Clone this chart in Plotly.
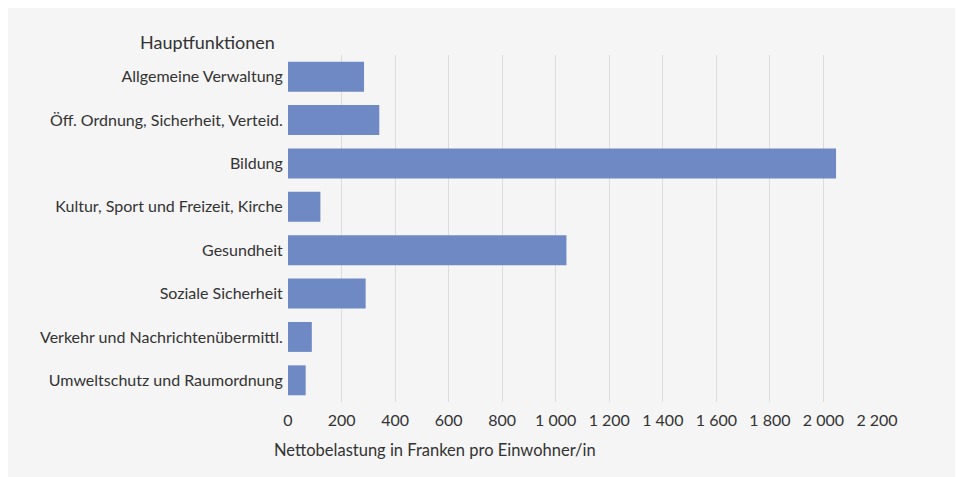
import plotly.graph_objects as go

categories = [
    "Allgemeine Verwaltung",
    "Öff. Ordnung, Sicherheit, Verteid.",
    "Bildung",
    "Kultur, Sport und Freizeit, Kirche",
    "Gesundheit",
    "Soziale Sicherheit",
    "Verkehr und Nachrichtenübermittl.",
    "Umweltschutz und Raumordnung",
]
values = [284, 341, 2047, 121, 1040, 290, 89, 66]
tick_vals = [0, 200, 400, 600, 800, 1000, 1200, 1400, 1600, 1800, 2000, 2200]
tick_text = ["0", "200", "400", "600", "800", "1 000", "1 200", "1 400",
             "1 600", "1 800", "2 000", "2 200"]

W, H = 951, 469
L, R, T, B = 280, 82, 47, 75
pw, ph = W - L - R, H - T - B

def px(x):
    return (x - L) / pw

def py(y):
    return (H - B - y) / ph

FONT = "Lato, Open Sans, sans-serif"
TXT = "#333333"
BG = "#f5f5f5"

fig = go.Figure(go.Bar(
    x=values, y=categories, orientation="h",
    marker=dict(color="#6f89c5", line=dict(width=0)),
    width=0.69,
))

fig.update_layout(
    width=W, height=H,
    margin=dict(l=L, r=R, t=T, b=B, autoexpand=False),
    paper_bgcolor=BG,
    plot_bgcolor=BG,
    font=dict(family=FONT, size=16, color=TXT),
    showlegend=False,
    xaxis=dict(range=[0, 2200], tickvals=tick_vals, ticktext=tick_text,
               showgrid=True, gridcolor="#dcdcdc", gridwidth=1,
               zeroline=False, showline=False, ticks="outside", ticklen=4,
               tickcolor="rgba(0,0,0,0)", tickfont=dict(size=16, color=TXT)),
    yaxis=dict(autorange="reversed", showgrid=False, zeroline=False,
               ticks="outside", ticklen=1, tickcolor="rgba(0,0,0,0)",
               tickfont=dict(size=16, color=TXT)),
    annotations=[
        dict(text="Hauptfunktionen", xref="paper", yref="paper",
             x=px(269), y=py(34), xanchor="right", yanchor="middle",
             showarrow=False, font=dict(size=18, color=TXT)),
        dict(text="Nettobelastung in Franken pro Einwohner/in", xref="paper", yref="paper",
             x=px(264), y=py(442), xanchor="left", yanchor="middle",
             showarrow=False, font=dict(size=16.5, color=TXT)),
    ],
)

fig.write_html("out.html")
